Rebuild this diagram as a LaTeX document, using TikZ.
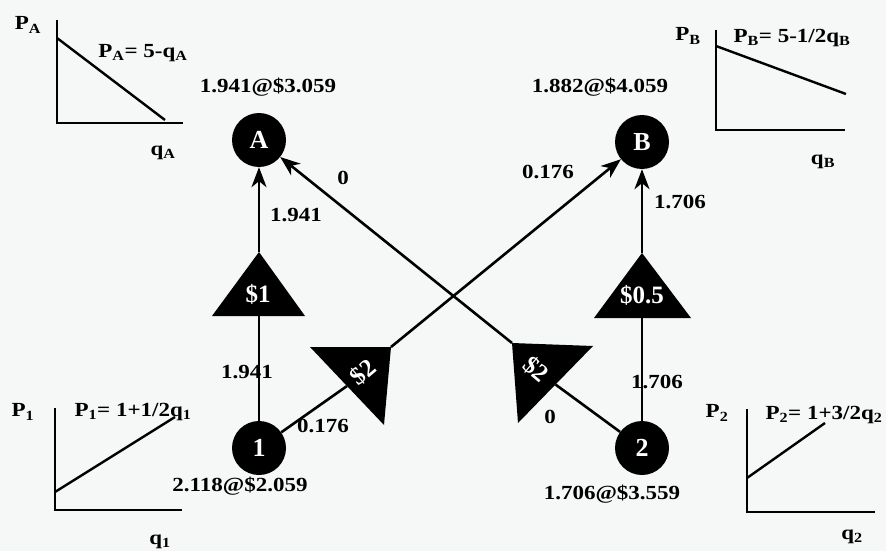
\documentclass[tikz,border=0pt]{standalone}
\usepackage{fontspec}
\setmainfont{Liberation Serif}[FakeStretch=1.15]
\newfontfamily\narrowserif{Liberation Serif}
\usetikzlibrary{arrows.meta}
\definecolor{paper}{RGB}{246,247,247}

\begin{document}
\begin{tikzpicture}[x=1pt,y=-1pt,
  every node/.style={font=\fontsize{20}{22}\selectfont\bfseries, inner sep=0pt},
  city/.style={circle, fill=black, minimum size=54pt, text=white,
    font=\narrowserif\fontsize{26}{28}\selectfont\bfseries},
  tri/.style={fill=black},
  trilabel/.style={text=white, font=\narrowserif\fontsize{25}{27}\selectfont\bfseries},
  flow/.style={line width=2.6pt},
  ship/.style={flow, -{Stealth[length=20pt,width=15pt,inset=6pt]}},
  axis/.style={line width=2.6pt},
  curve/.style={line width=2.4pt}]
\fill[paper] (0,0) rectangle (886,551);
\useasboundingbox (0,0) rectangle (886,551);

% markets and plants
\node[city] (A) at (259,140) {A};
\node[city] (B) at (642,142) {B};
\node[city] (n1) at (259,448) {1};
\node[city] (n2) at (642,448) {2};

% tariff / transport triangles: apex and base midpoint
\coordinate (s1apex) at (259,252);  \coordinate (s1base) at (259,316);
\coordinate (s5apex) at (642,253);  \coordinate (s5base) at (642,318);
\coordinate (l2apex) at (391,347);  \coordinate (l2base) at (347,386);
\coordinate (r2apex) at (512,343);  \coordinate (r2base) at (555.5,384.5);

% flows
\draw[flow] (n1) -- (s1base);
\draw[ship] (s1apex) -- (A);
\draw[flow] (n2) -- (s5base);
\draw[ship] (s5apex) -- (B);
\draw[flow] (n1) -- (l2base);
\draw[ship] (l2apex) -- (B);
\draw[flow] (n2) -- (r2base);
\draw[ship] (r2apex) -- (A);

% triangles
\fill[tri] (s1apex) -- (212,316) -- (305,316) -- cycle;
\fill[tri] (s5apex) -- (594,318) -- (691,318) -- cycle;
\fill[tri] (l2apex) -- (310,347) -- (384,425) -- cycle;
\fill[tri] (r2apex) -- (593,346) -- (518,423) -- cycle;
\node[trilabel] (s1) at (258,294) {\$1};
\node[trilabel] (s5) at (642,295) {\$0.5};
\node[trilabel, rotate=40] (l2) at (363,372) {\$2};
\node[trilabel, rotate=-40] (r2) at (536,369) {\$2};

% quantities and prices
\node (pA) at (268,87) {1.941@\$3.059};
\node (pB) at (600,87) {1.882@\$4.059};
\node (p1) at (240,486) {2.118@\$2.059};
\node (p2) at (612,494) {1.706@\$3.559};

% flow labels
\node (f1A) at (296,215) {1.941};
\node (f1s) at (247,372) {1.941};
\node (f2A) at (343,178) {0};
\node (f1B) at (548,172) {0.176};
\node (f2B) at (680,202) {1.706};
\node (f2s) at (657,382) {1.706};
\node (f1l) at (323,426) {0.176};
\node (f2r) at (550,417) {0};

% demand A
\draw[axis] (57,20) -- (57,123) -- (183,123);
\draw[curve] (57,38) -- (165,120);
\node (yA) at (28,25) {P\textsubscript{A}};
\node (eA) at (143,53) {P\textsubscript{A}= 5-q\textsubscript{A}};
\node (xA) at (163,153) {q\textsubscript{A}};

% demand B
\draw[axis] (716,30) -- (716,130) -- (845,130);
\draw[curve] (716,46) -- (846,94);
\node (yB) at (688,36) {P\textsubscript{B}};
\node (eB) at (792,38) {P\textsubscript{B}= 5-1/2q\textsubscript{B}};
\node (xB) at (823,162) {q\textsubscript{B}};

% supply 1
\draw[axis] (55,408) -- (55,510) -- (182,510);
\draw[curve] (55,492) -- (175,417);
\node (y1) at (23,412) {P\textsubscript{1}};
\node (e1) at (133,412) {P\textsubscript{1}= 1+1/2q\textsubscript{1}};
\node (x1) at (160,542) {q\textsubscript{1}};

% supply 2
\draw[axis] (747,409) -- (747,512) -- (875,512);
\draw[curve] (747,478) -- (825,423);
\node (y2) at (717,413) {P\textsubscript{2}};
\node (e2) at (824,415) {P\textsubscript{2}= 1+3/2q\textsubscript{2}};
\node (x2) at (852,537) {q\textsubscript{2}};
\end{tikzpicture}
\end{document}
